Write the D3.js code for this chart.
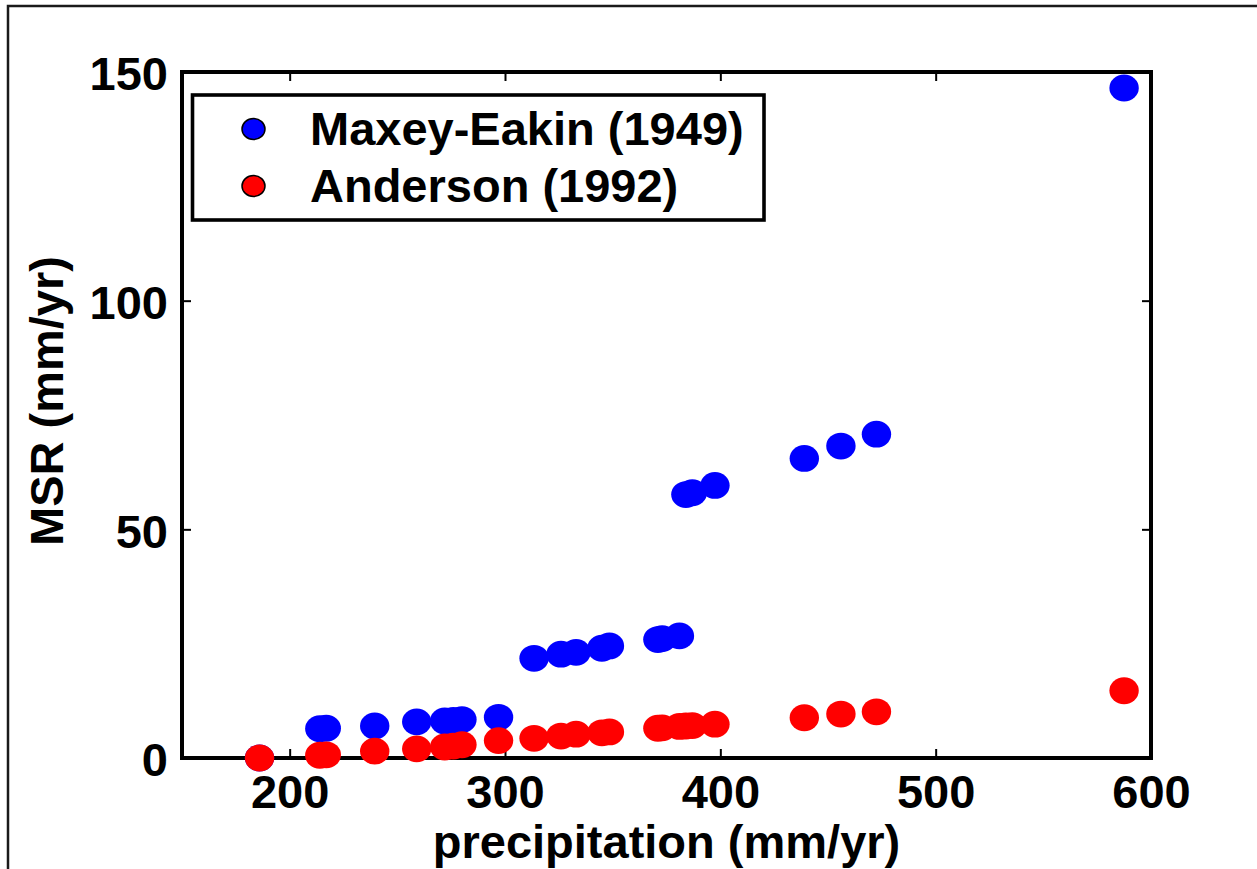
<!DOCTYPE html>
<html>
<head>
<meta charset="utf-8">
<script src="https://cdn.jsdelivr.net/npm/d3@7"></script>
<style>
    body { margin: 0; background: #fff; }
    svg { display: block; font-family: "Liberation Sans", Arial, sans-serif; font-weight: bold; }
</style>
</head>
<body>
<svg id="chart" width="1257" height="869"></svg>
<script>
// Values
const precip = [186, 214, 217, 239.5, 259, 272, 276, 280, 297, 313.5, 326, 333, 345, 348.5, 371, 373, 381, 384, 387, 397.5, 439, 456, 472.5, 587.5];
const maxeyEakin = [0, 6.4, 6.5, 7.0, 7.9, 8.1, 8.2, 8.4, 8.9, 21.8, 22.7, 23.1, 24.0, 24.5, 25.9, 26.1, 26.7, 57.6, 58.0, 59.6, 65.5, 68.2, 70.8, 146.5];
const anderson = [0, 0.6, 0.7, 1.5, 2.0, 2.4, 2.6, 2.9, 3.8, 4.3, 4.8, 5.2, 5.5, 5.7, 6.5, 6.6, 6.9, 7.0, 7.1, 7.4, 8.8, 9.6, 10.1, 14.7];
const seriesNames = ['Maxey-Eakin (1949)', 'Anderson (1992)'];
const seriesColors = ['#0000ff', '#ff0000'];
const xTicks = [200, 300, 400, 500, 600];
const yTicks = [0, 50, 100, 150];
const xLabel = 'precipitation (mm/yr)';
const yLabel = 'MSR (mm/yr)';

const svg = d3.select('#chart');
const fontSize = 47;

// Plot box
const plotLeft = 182, plotRight = 1151, plotTop = 72, plotBottom = 758;

const x = d3.scaleLinear().domain([150, 600]).range([plotLeft, plotRight]);
const y = d3.scaleLinear().domain([0, 150]).range([plotBottom, plotTop]);

// Outer figure frame (only the top and left edges are in view)
svg.append('path')
    .attr('d', 'M8,875V6H1260')
    .attr('fill', 'none')
    .attr('stroke', '#1a1a1a')
    .attr('stroke-width', 2.5);

// Axes with inward ticks
function styleAxis(g) {
    g.select('.domain').remove();
    g.selectAll('.tick line').attr('stroke', '#000').attr('stroke-width', 2);
    g.selectAll('.tick text')
        .attr('fill', '#000')
        .style('font-size', fontSize + 'px')
        .style('font-weight', 'bold');
}

svg.append('g')
    .attr('transform', `translate(0,${plotBottom})`)
    .call(d3.axisBottom(x).tickValues(xTicks).tickSizeInner(-9).tickSizeOuter(0).tickPadding(17))
    .call(styleAxis);

svg.append('g')
    .attr('transform', `translate(0,${plotTop})`)
    .call(d3.axisTop(x).tickValues(xTicks).tickSizeInner(-9).tickSizeOuter(0).tickFormat(''))
    .call(styleAxis);

svg.append('g')
    .attr('transform', `translate(${plotLeft},0)`)
    .call(d3.axisLeft(y).tickValues(yTicks).tickSizeInner(-9).tickSizeOuter(0).tickPadding(14))
    .call(styleAxis)
    .selectAll('.tick text').attr('dy', '0.38em');

svg.append('g')
    .attr('transform', `translate(${plotRight},0)`)
    .call(d3.axisRight(y).tickValues(yTicks).tickSizeInner(-9).tickSizeOuter(0).tickFormat(''))
    .call(styleAxis);

// Box around the plot
svg.append('rect')
    .attr('x', plotLeft)
    .attr('y', plotTop)
    .attr('width', plotRight - plotLeft)
    .attr('height', plotBottom - plotTop)
    .attr('fill', 'none')
    .attr('stroke', '#000')
    .attr('stroke-width', 4);

// Scatter points, Anderson drawn over Maxey-Eakin
const series = [maxeyEakin, anderson];
series.forEach((values, i) => {
    svg.append('g')
        .selectAll('ellipse')
        .data(values)
        .enter()
        .append('ellipse')
        .attr('cx', (d, j) => x(precip[j]))
        .attr('cy', d => y(d))
        .attr('rx', 14.7)
        .attr('ry', 13.4)
        .attr('fill', seriesColors[i]);
});

// Axis titles
svg.append('text')
    .attr('x', (plotLeft + plotRight) / 2)
    .attr('y', 858)
    .attr('text-anchor', 'middle')
    .style('font-size', fontSize + 'px')
    .text(xLabel);

svg.append('text')
    .attr('transform', 'translate(63,401) rotate(-90)')
    .attr('text-anchor', 'middle')
    .style('font-size', fontSize + 'px')
    .text(yLabel);

// Legend
const legend = svg.append('g');
legend.append('rect')
    .attr('x', 192.5)
    .attr('y', 95)
    .attr('width', 571.5)
    .attr('height', 125)
    .attr('fill', '#fff')
    .attr('stroke', '#000')
    .attr('stroke-width', 3.6);

const legendRows = [129, 186];
seriesNames.forEach((name, i) => {
    legend.append('ellipse')
        .attr('cx', 253.5)
        .attr('cy', legendRows[i])
        .attr('rx', 11.5)
        .attr('ry', 10.5)
        .attr('fill', seriesColors[i])
        .attr('stroke', '#000')
        .attr('stroke-width', 1.5);
    legend.append('text')
        .attr('x', 310)
        .attr('y', legendRows[i] + 16)
        .style('font-size', fontSize + 'px')
        .text(name);
});
</script>
</body>
</html>
